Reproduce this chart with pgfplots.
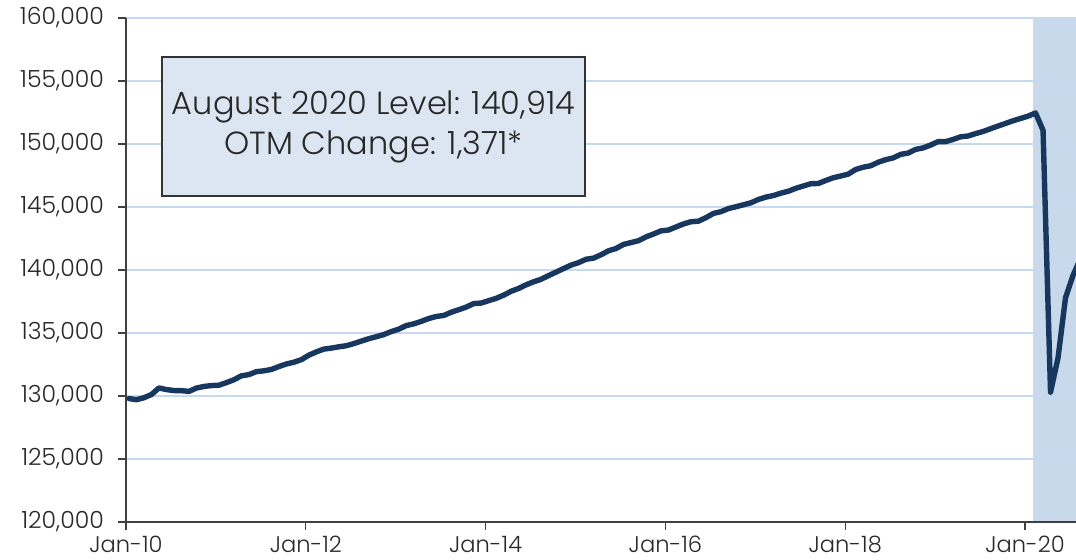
\documentclass[border=0pt]{standalone}
\usepackage{fontspec}
\setmainfont{Poppins}[UprightFont = * Light]
\usepackage{pgfplots}
\usepackage{pgfplotstable}
\pgfplotsset{compat=1.18}
\definecolor{navy}{RGB}{23,55,94}
\definecolor{shade}{RGB}{201,217,236}
\definecolor{gridc}{RGB}{197,217,241}
\definecolor{boxc}{RGB}{220,230,242}
\definecolor{txt}{RGB}{40,40,40}
\pgfplotstableread{
x y
0 129798
1 129705
2 129865
3 130120
4 130641
5 130510
6 130434
7 130424
8 130367
9 130632
10 130758
11 130829
12 130856
13 131062
14 131290
15 131600
16 131699
17 131933
18 131999
19 132107
20 132337
21 132541
22 132680
23 132882
24 133239
25 133501
26 133722
27 133802
28 133905
29 133990
30 134159
31 134354
32 134549
33 134706
34 134874
35 135113
36 135303
37 135590
38 135727
39 135921
40 136147
41 136311
42 136391
43 136646
44 136845
45 137057
46 137332
47 137377
48 137566
49 137749
50 138001
51 138311
52 138537
53 138824
54 139063
55 139263
56 139556
57 139832
58 140114
59 140389
60 140582
61 140854
62 140942
63 141209
64 141525
65 141705
66 142028
67 142176
68 142326
69 142625
70 142855
71 143106
72 143172
73 143414
74 143653
75 143831
76 143876
77 144153
78 144490
79 144628
80 144874
81 145020
82 145175
83 145332
84 145596
85 145784
86 145908
87 146099
88 146251
89 146484
90 146667
91 146849
92 146866
93 147105
94 147321
95 147462
96 147611
97 147979
98 148159
99 148275
100 148552
101 148757
102 148896
103 149178
104 149283
105 149573
106 149693
107 149920
108 150189
109 150190
110 150363
111 150573
112 150635
113 150828
114 150995
115 151214
116 151428
117 151636
118 151845
119 152029
120 152212
121 152463
122 151090
123 130303
124 133028
125 137802
126 139566
127 140914
}\payroll
\pgfplotstableread{
x y
121 120000
121 160000
126.8 160000
126.8 120000
}\recession
\begin{document}
\begin{tikzpicture}
\begin{axis}[
  set layers,
  scale only axis, width=475pt, height=252pt,
  at={(0,0)}, anchor=south west,
  xmin=0, xmax=126.8, ymin=120000, ymax=160000,
  axis lines*=left,
  axis line style={-, draw=black!75, line width=0.6pt},
  xtick={0,24,...,120},
  xticklabels={Jan-10,Jan-12,Jan-14,Jan-16,Jan-18,Jan-20},
  ytick={120000,125000,...,160000},
  tick align=outside, major tick length=4pt,
  tick style={draw=black!75, line width=0.6pt},
  ymajorgrids, grid style={gridc, line width=0.8pt},
  ticklabel style={font=\fontsize{11.8}{13}\selectfont, text=txt},
  xticklabel style={inner sep=0pt, yshift=-3pt, font=\fontsize{11.3}{12}\selectfont},
  /pgf/number format/assume math mode=true,
  scaled y ticks=false,
  yticklabel style={xshift=-3.5pt, /pgf/number format/.cd, fixed, 1000 sep={,}},
]
\addplot[on layer=axis background, fill=shade, draw=none] table[x=x, y=y] {\recession} -- cycle;
\addplot[navy, line width=2.7pt, line join=round, line cap=round] table[x expr=\thisrow{x}+0.4, y=y] {\payroll};
\end{axis}
\draw[fill=boxc, draw=black!80, line width=0.6pt] (18pt,163pt) rectangle (229.5pt,232.5pt);
\node[align=center, font=\fontsize{16}{20}\selectfont, text=txt, inner sep=0pt] at (123.75pt,197.5pt) {August 2020 Level: 140,914\\OTM Change: 1,371*};
\pgfresetboundingbox
\useasboundingbox (-63pt,-18.5pt) rectangle (475pt,261pt);
\end{tikzpicture}
\end{document}
